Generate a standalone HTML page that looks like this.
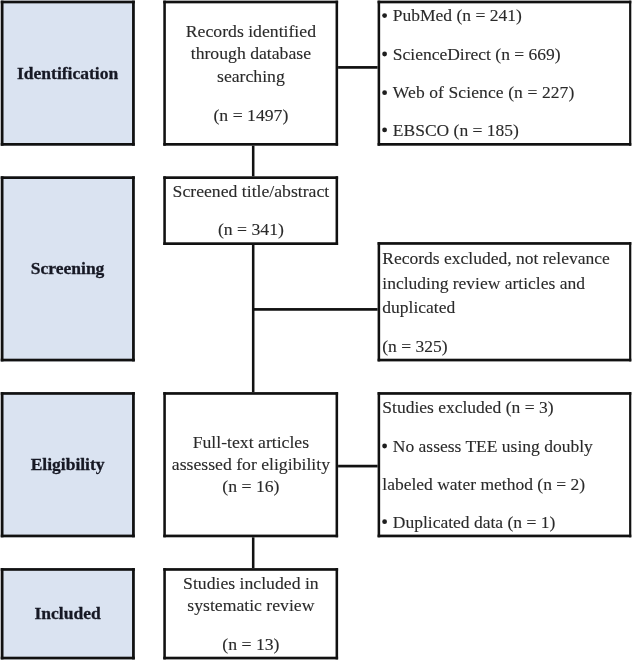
<!DOCTYPE html>
<html><head><meta charset="utf-8"><style>
html,body{margin:0;padding:0;background:#fff;}
svg{display:block;will-change:transform;}
text{font-family:"Liberation Serif",serif;font-size:17.5px;fill:#2a2a2a;stroke:#2a2a2a;stroke-width:0.12px;}
.lb{fill:#161824;stroke:#161824;stroke-width:0.3px;}
</style></head><body>
<svg width="632" height="660" viewBox="0 0 632 660">
<rect x="251.92" y="144.70" width="2.55" height="32.60" fill="#111"/>
<rect x="251.92" y="244.00" width="2.55" height="149.10" fill="#111"/>
<rect x="251.92" y="536.30" width="2.55" height="32.80" fill="#111"/>
<rect x="337.10" y="66.05" width="41.50" height="2.70" fill="#111"/>
<rect x="253.20" y="308.05" width="125.40" height="2.70" fill="#111"/>
<rect x="337.10" y="464.75" width="41.50" height="2.70" fill="#111"/>
<rect x="0.75" y="0.65" width="134.05" height="145.05" fill="#dae3f1"/>
<rect x="0.75" y="0.65" width="134.05" height="2.70" fill="#111"/>
<rect x="0.75" y="143.00" width="134.05" height="2.70" fill="#111"/>
<rect x="0.75" y="0.65" width="2.75" height="145.05" fill="#111"/>
<rect x="132.05" y="0.65" width="2.75" height="145.05" fill="#111"/>
<rect x="0.75" y="176.30" width="134.05" height="185.10" fill="#dae3f1"/>
<rect x="0.75" y="176.30" width="134.05" height="2.70" fill="#111"/>
<rect x="0.75" y="358.70" width="134.05" height="2.70" fill="#111"/>
<rect x="0.75" y="176.30" width="2.75" height="185.10" fill="#111"/>
<rect x="132.05" y="176.30" width="2.75" height="185.10" fill="#111"/>
<rect x="0.75" y="392.10" width="134.05" height="145.20" fill="#dae3f1"/>
<rect x="0.75" y="392.10" width="134.05" height="2.70" fill="#111"/>
<rect x="0.75" y="534.60" width="134.05" height="2.70" fill="#111"/>
<rect x="0.75" y="392.10" width="2.75" height="145.20" fill="#111"/>
<rect x="132.05" y="392.10" width="2.75" height="145.20" fill="#111"/>
<rect x="0.75" y="568.10" width="134.05" height="91.30" fill="#dae3f1"/>
<rect x="0.75" y="568.10" width="134.05" height="2.70" fill="#111"/>
<rect x="0.75" y="656.70" width="134.05" height="2.70" fill="#111"/>
<rect x="0.75" y="568.10" width="2.75" height="91.30" fill="#111"/>
<rect x="132.05" y="568.10" width="2.75" height="91.30" fill="#111"/>
<rect x="163.30" y="0.65" width="174.80" height="145.05" fill="#fff"/>
<rect x="163.30" y="0.65" width="174.80" height="2.70" fill="#111"/>
<rect x="163.30" y="143.00" width="174.80" height="2.70" fill="#111"/>
<rect x="163.30" y="0.65" width="2.55" height="145.05" fill="#111"/>
<rect x="335.55" y="0.65" width="2.55" height="145.05" fill="#111"/>
<rect x="377.60" y="0.65" width="253.70" height="145.05" fill="#fff"/>
<rect x="377.60" y="0.65" width="253.70" height="2.70" fill="#111"/>
<rect x="377.60" y="143.00" width="253.70" height="2.70" fill="#111"/>
<rect x="377.60" y="0.65" width="2.55" height="145.05" fill="#111"/>
<rect x="629.10" y="0.65" width="2.20" height="145.05" fill="#111"/>
<rect x="163.30" y="176.30" width="174.80" height="68.70" fill="#fff"/>
<rect x="163.30" y="176.30" width="174.80" height="2.70" fill="#111"/>
<rect x="163.30" y="242.30" width="174.80" height="2.70" fill="#111"/>
<rect x="163.30" y="176.30" width="2.55" height="68.70" fill="#111"/>
<rect x="335.55" y="176.30" width="2.55" height="68.70" fill="#111"/>
<rect x="377.60" y="242.10" width="253.70" height="119.30" fill="#fff"/>
<rect x="377.60" y="242.10" width="253.70" height="2.70" fill="#111"/>
<rect x="377.60" y="358.70" width="253.70" height="2.70" fill="#111"/>
<rect x="377.60" y="242.10" width="2.55" height="119.30" fill="#111"/>
<rect x="629.10" y="242.10" width="2.20" height="119.30" fill="#111"/>
<rect x="163.30" y="392.10" width="174.80" height="145.20" fill="#fff"/>
<rect x="163.30" y="392.10" width="174.80" height="2.70" fill="#111"/>
<rect x="163.30" y="534.60" width="174.80" height="2.70" fill="#111"/>
<rect x="163.30" y="392.10" width="2.55" height="145.20" fill="#111"/>
<rect x="335.55" y="392.10" width="2.55" height="145.20" fill="#111"/>
<rect x="377.60" y="392.10" width="253.70" height="145.20" fill="#fff"/>
<rect x="377.60" y="392.10" width="253.70" height="2.70" fill="#111"/>
<rect x="377.60" y="534.60" width="253.70" height="2.70" fill="#111"/>
<rect x="377.60" y="392.10" width="2.55" height="145.20" fill="#111"/>
<rect x="629.10" y="392.10" width="2.20" height="145.20" fill="#111"/>
<rect x="163.30" y="568.10" width="174.80" height="91.30" fill="#fff"/>
<rect x="163.30" y="568.10" width="174.80" height="2.70" fill="#111"/>
<rect x="163.30" y="656.70" width="174.80" height="2.70" fill="#111"/>
<rect x="163.30" y="568.10" width="2.55" height="91.30" fill="#111"/>
<rect x="335.55" y="568.10" width="2.55" height="91.30" fill="#111"/>
<text x="67.6" y="78.7" text-anchor="middle" font-weight="bold" class="lb" style="font-size:17.5px">Identification</text>
<text x="67.6" y="274.3" text-anchor="middle" font-weight="bold" class="lb" style="font-size:17.5px">Screening</text>
<text x="67.6" y="469.9" text-anchor="middle" font-weight="bold" class="lb" style="font-size:17.5px">Eligibility</text>
<text x="67.6" y="619.3" text-anchor="middle" font-weight="bold" class="lb" style="font-size:17.5px">Included</text>
<text x="250.9" y="37.2" text-anchor="middle" style="font-size:17.7px">Records identified</text>
<text x="250.9" y="59.4" text-anchor="middle" style="font-size:17.7px">through database</text>
<text x="250.9" y="82.0" text-anchor="middle" style="font-size:17.7px">searching</text>
<text x="250.9" y="120.5" text-anchor="middle" style="font-size:17.7px">(n = 1497)</text>
<text x="250.9" y="197.2" text-anchor="middle" style="font-size:17.7px">Screened title/abstract</text>
<text x="250.9" y="235.4" text-anchor="middle" style="font-size:17.7px">(n = 341)</text>
<text x="250.9" y="448.4" text-anchor="middle" style="font-size:17.7px">Full-text articles</text>
<text x="250.9" y="470.3" text-anchor="middle" style="font-size:17.7px">assessed for eligibility</text>
<text x="250.9" y="492.2" text-anchor="middle" style="font-size:17.7px">(n = 16)</text>
<text x="250.9" y="588.6" text-anchor="middle" style="font-size:17.7px">Studies included in</text>
<text x="250.9" y="611.4" text-anchor="middle" style="font-size:17.7px">systematic review</text>
<text x="250.9" y="650.2" text-anchor="middle" style="font-size:17.7px">(n = 13)</text>
<circle cx="384.6" cy="15.6" r="2.4" fill="#1e1e1e"/>
<text x="392.8" y="21.2" style="font-size:17.5px">PubMed (n = 241)</text>
<circle cx="384.6" cy="54.0" r="2.4" fill="#1e1e1e"/>
<text x="392.8" y="59.6" style="font-size:17.5px">ScienceDirect (n = 669)</text>
<circle cx="384.6" cy="92.7" r="2.4" fill="#1e1e1e"/>
<text x="392.8" y="98.3" style="font-size:17.5px" textLength="181.5" lengthAdjust="spacing">Web of Science (n = 227)</text>
<circle cx="384.6" cy="129.9" r="2.4" fill="#1e1e1e"/>
<text x="392.8" y="135.5" style="font-size:17.5px">EBSCO (n = 185)</text>
<text x="382.3" y="264.2" style="font-size:17.5px">Records excluded, not relevance</text>
<text x="382.3" y="288.5" style="font-size:17.5px">including review articles and</text>
<text x="382.3" y="312.6" style="font-size:17.5px">duplicated</text>
<text x="382.3" y="351.6" style="font-size:17.5px">(n = 325)</text>
<text x="382.3" y="413.0" style="font-size:17.5px">Studies excluded (n = 3)</text>
<circle cx="384.6" cy="446.0" r="2.4" fill="#1e1e1e"/>
<text x="392.8" y="452.0" style="font-size:17.5px">No assess TEE using doubly</text>
<text x="382.3" y="489.8" style="font-size:17.5px">labeled water method (n = 2)</text>
<circle cx="384.6" cy="521.6999999999999" r="2.4" fill="#1e1e1e"/>
<text x="392.8" y="527.6" style="font-size:17.5px">Duplicated data (n = 1)</text>
</svg>
</body></html>
